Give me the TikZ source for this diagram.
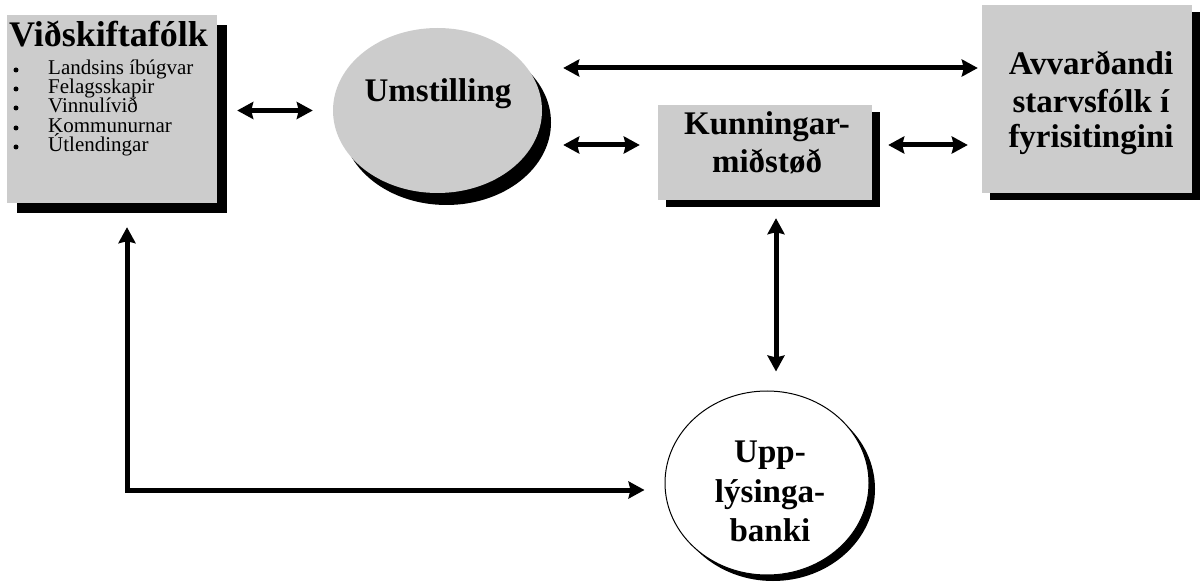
\documentclass[tikz,border=0pt]{standalone}
\usepackage{fontspec}
\setmainfont{Liberation Serif}
\usetikzlibrary{shapes.geometric,shadows,arrows.meta}
\definecolor{dither}{gray}{0.8}
\begin{document}
\begin{tikzpicture}[x=1pt,y=-1pt,
  gbox/.style={fill=dither,draw=none,inner sep=0pt},
  shad/.style 2 args={drop shadow={shadow xshift=#1pt,shadow yshift=-#2pt,fill=black,opacity=1}},
  big/.style={font=\fontsize{33}{33}\selectfont\bfseries,inner sep=0pt},
  ttl/.style={font=\fontsize{36}{36}\selectfont\bfseries,inner sep=0pt},
  itm/.style={font=\fontsize{21}{21}\selectfont,inner sep=0pt,anchor=base west},
  bul/.style={circle,fill=black,draw=none,inner sep=0pt,minimum size=5pt},
  arr/.style={line width=5pt,{Stealth[length=16pt,width=17pt,inset=2pt]}-{Stealth[length=16pt,width=17pt,inset=2pt]}}
]
\useasboundingbox (0,0) rectangle (1200,585);

% boxes and ellipses
\node[gbox,shad={10}{10},minimum width=210pt,minimum height=188pt] (vid) at (112,109) {};
\node[gbox,ellipse,shad={9}{12},minimum width=209pt,minimum height=165pt] (umst) at (437.5,110.5) {};
\node[gbox,shad={8}{7},minimum width=214pt,minimum height=95pt] (kun) at (765,152.5) {};
\node[gbox,shad={8}{7},minimum width=210pt,minimum height=188pt] (ava) at (1087,99) {};
\node[ellipse,fill=white,draw=black,line width=1pt,shad={6}{6},minimum width=204pt,minimum height=184pt,inner sep=0pt] (upp) at (767,483) {};

% texts
\node[ttl,anchor=base west] (vidt) at (9,47) {Viðskiftafólk};
\node[bul] (b1) at (16,70) {};
\node[itm] (i1) at (48,75) {Landsins íbúgvar};
\node[bul] (b2) at (16,89) {};
\node[itm] (i2) at (48,94) {Felagsskapir};
\node[bul] (b3) at (16,108) {};
\node[itm] (i3) at (48,113) {Vinnulívið};
\node[bul] (b4) at (16,128) {};
\node[itm] (i4) at (48,133) {Kommunurnar};
\node[bul] (b5) at (16,147) {};
\node[itm] (i5) at (48,152) {Útlendingar};

\node[big,anchor=base] (umt) at (438,102) {Umstilling};
\node[big,anchor=base] (kt1) at (767,135) {Kunningar-};
\node[big,anchor=base] (kt2) at (767,173) {miðstøð};
\node[big,anchor=base] (at1) at (1091,75) {Avvarðandi};
\node[big,anchor=base] (at2) at (1091,113) {starvsfólk í};
\node[big,anchor=base] (at3) at (1091,148) {fyrisitingini};
\node[big,anchor=base] (ut1) at (770,462) {Upp-};
\node[big,anchor=base] (ut2) at (770,502) {lýsinga-};
\node[big,anchor=base] (ut3) at (770,541) {banki};

% connectors
\draw[arr,shorten <=20pt,shorten >=20pt] (vid.east |- umst.center) -- (umst.west);
\draw[arr,shorten <=21pt,shorten >=4pt] (umst.east |- 0,68) -- (ava.west |- 0,68);
\draw[arr,shorten <=21pt,shorten >=18pt] (umst.east |- 0,145) -- (kun.west |- 0,145);
\draw[arr,shorten <=16pt,shorten >=14pt] (kun.east |- 0,145) -- (ava.west |- 0,145);
\draw[arr,shorten <=18pt,shorten >=19pt] (kun.south -| 776,0) -- (upp.north -| 776,0);
\draw[arr,shorten <=24pt,shorten >=20pt] (vid.south -| 127,0) |- (upp.west |- 0,490);
\end{tikzpicture}
\end{document}
